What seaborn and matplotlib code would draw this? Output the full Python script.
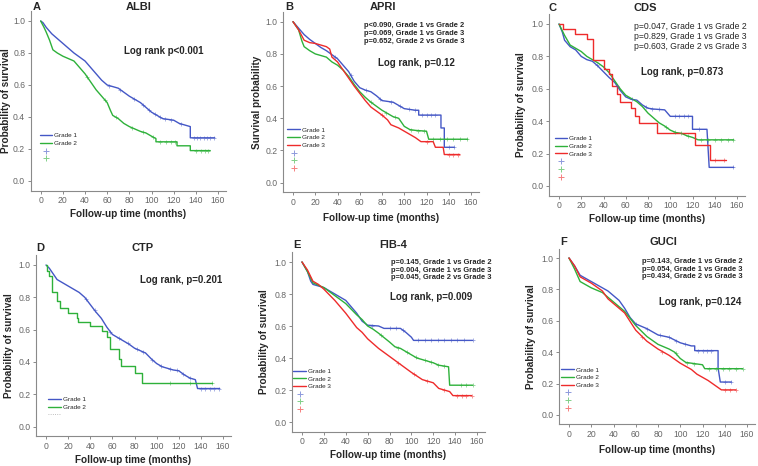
import numpy as np
import matplotlib
matplotlib.use("Agg")
import matplotlib.pyplot as plt
import seaborn as sns
from matplotlib.lines import Line2D

# ==========================
# DATA
# ==========================
x_ticks = [0, 20, 40, 60, 80, 100, 120, 140, 160]
y_ticks = [0.0, 0.2, 0.4, 0.6, 0.8, 1.0]
grades = ["Grade 1", "Grade 2", "Grade 3"]

# A - ALBI
albi_t1 = [0, 2, 5, 10, 15, 20, 25, 30, 35, 40, 45, 50, 55, 60, 65, 70, 75, 80, 85, 90, 95, 100, 105, 110, 115, 120, 125, 130, 135, 135, 157]
albi_s1 = [1.0, .99, .96, .92, .89, .86, .83, .80, .775, .75, .71, .67, .63, .60, .59, .58, .555, .53, .51, .49, .46, .43, .41, .39, .385, .38, .36, .35, .34, .27, .27]
albi_c1 = [62, 72, 84, 92, 98, 103, 108, 112, 118, 127, 138, 141, 144, 147, 150, 153, 156]
albi_t2 = [0, 3, 5, 8, 11, 15, 20, 25, 30, 35, 40, 45, 50, 55, 60, 63, 65, 70, 75, 80, 85, 90, 95, 100, 104, 104, 123, 123, 135, 135, 153]
albi_s2 = [1.0, .96, .93, .88, .82, .80, .78, .765, .75, .71, .67, .62, .57, .53, .49, .44, .41, .39, .36, .34, .325, .31, .30, .28, .265, .245, .245, .22, .22, .19, .19]
albi_c2 = [42, 58, 68, 82, 92, 101, 108, 113, 118, 121, 140, 145, 148, 151]

# B - APRI
apri_t1 = [0, 5, 10, 15, 20, 25, 30, 35, 40, 45, 50, 55, 60, 65, 70, 75, 80, 85, 90, 95, 100, 105, 110, 113, 113, 133, 133, 136, 136, 145]
apri_s1 = [1.0, .96, .92, .89, .865, .84, .82, .795, .77, .73, .69, .63, .59, .575, .565, .54, .51, .505, .50, .48, .46, .455, .45, .45, .42, .42, .34, .34, .22, .22]
apri_c1 = [38, 52, 66, 78, 88, 96, 104, 110, 116, 120, 124, 128, 140, 145]
apri_t2 = [0, 5, 8, 10, 15, 20, 25, 30, 35, 40, 45, 50, 55, 60, 65, 70, 75, 80, 85, 90, 95, 100, 105, 110, 120, 122, 157]
apri_s2 = [1.0, .95, .88, .845, .82, .80, .79, .78, .75, .73, .70, .66, .61, .565, .53, .50, .475, .45, .43, .41, .40, .35, .33, .325, .32, .27, .27]
apri_c2 = [70, 84, 92, 106, 112, 118, 126, 132, 138, 144, 150, 156]
apri_t3 = [0, 5, 10, 15, 20, 25, 30, 33, 35, 40, 45, 50, 55, 60, 65, 70, 75, 80, 85, 88, 95, 100, 105, 110, 115, 126, 128, 135, 136, 150]
apri_s3 = [1.0, .95, .885, .87, .865, .855, .845, .83, .78, .75, .70, .65, .60, .555, .51, .47, .445, .42, .39, .36, .34, .32, .30, .28, .255, .255, .22, .22, .175, .175]
apri_c3 = [80, 120, 140, 144, 148]

# C - CDS
cds_t1 = [0, 3, 5, 10, 15, 20, 25, 30, 35, 40, 45, 50, 55, 60, 65, 70, 75, 80, 85, 95, 100, 120, 120, 133, 135, 157]
cds_s1 = [1.0, .95, .90, .86, .84, .80, .78, .77, .74, .705, .67, .64, .59, .55, .535, .53, .50, .48, .475, .47, .43, .43, .35, .35, .115, .115]
cds_c1 = [34, 52, 66, 78, 84, 90, 104, 108, 112, 116, 126, 156]
cds_t2 = [0, 5, 10, 15, 20, 25, 30, 35, 40, 45, 50, 55, 60, 65, 70, 75, 80, 85, 90, 95, 100, 105, 110, 115, 120, 125, 157]
cds_s2 = [1.0, .93, .87, .85, .83, .80, .78, .76, .735, .70, .65, .60, .56, .54, .52, .49, .45, .42, .39, .37, .345, .33, .325, .31, .30, .285, .285]
cds_c2 = [96, 104, 110, 116, 128, 134, 140, 146, 152, 156]
cds_t3 = [0, 4, 14, 25, 31, 40, 45, 48, 52, 55, 65, 68, 72, 88, 122, 136, 150]
cds_s3 = [1.0, .97, .94, .91, .78, .72, .69, .62, .57, .52, .48, .43, .39, .33, .25, .16, .16]
cds_c3 = [140, 148]

# D - CTP
ctp_t1 = [0, 3, 5, 10, 15, 20, 25, 30, 35, 40, 45, 50, 55, 60, 65, 70, 75, 80, 85, 90, 95, 100, 105, 110, 115, 120, 125, 130, 135, 137, 157]
ctp_s1 = [1.0, .98, .96, .91, .89, .87, .85, .83, .80, .755, .71, .67, .615, .57, .55, .53, .51, .485, .47, .455, .42, .39, .37, .36, .35, .345, .32, .30, .29, .235, .235]
ctp_c1 = [36, 44, 58, 66, 74, 82, 88, 96, 104, 112, 118, 124, 130, 140, 144, 148, 152, 156]
ctp_t2 = [0, 1, 3, 5, 10, 13, 20, 28, 29, 40, 51, 55, 58, 66, 68, 80, 87, 150]
ctp_s2 = [1.0, .96, .93, .83, .775, .735, .70, .67, .65, .62, .59, .555, .48, .42, .375, .33, .27, .27]
ctp_c2 = [112, 130, 150]

# E - FIB-4
fib_t1 = [0, 5, 8, 10, 20, 30, 40, 50, 55, 60, 70, 75, 90, 95, 100, 102, 156]
fib_s1 = [1.0, .94, .88, .86, .84, .80, .76, .68, .63, .605, .60, .585, .585, .56, .53, .51, .51]
fib_c1 = [64, 80, 86, 92, 106, 112, 118, 124, 130, 136, 142, 148, 156]
fib_t2 = [0, 5, 10, 20, 30, 40, 50, 55, 60, 65, 70, 80, 85, 90, 100, 105, 110, 115, 120, 125, 134, 135, 156]
fib_s2 = [1.0, .94, .87, .84, .79, .74, .67, .64, .60, .58, .555, .50, .47, .46, .42, .40, .39, .38, .37, .355, .345, .23, .23]
fib_c2 = [72, 88, 96, 104, 112, 118, 124, 130, 145, 150, 156]
fib_t3 = [0, 5, 10, 15, 20, 30, 40, 50, 55, 60, 70, 80, 90, 100, 110, 120, 125, 135, 138, 155]
fib_s3 = [1.0, .95, .88, .86, .83, .76, .68, .59, .56, .52, .46, .41, .36, .31, .265, .245, .21, .19, .165, .165]
fib_c3 = [88, 102, 114, 130, 142, 146, 150, 155]

# F - GUCI
guci_t1 = [0, 5, 10, 20, 30, 35, 40, 45, 50, 55, 60, 70, 80, 90, 100, 110, 113, 113, 134, 134, 136, 146]
guci_s1 = [1.0, .95, .89, .85, .81, .79, .76, .73, .68, .62, .58, .55, .51, .495, .46, .44, .44, .41, .41, .30, .21, .21]
guci_c1 = [60, 70, 82, 90, 96, 104, 116, 120, 124, 128, 140, 146]
guci_t2 = [0, 5, 10, 20, 30, 40, 50, 60, 70, 80, 90, 95, 100, 105, 120, 122, 156]
guci_s2 = [1.0, .93, .85, .81, .78, .72, .66, .57, .50, .45, .42, .40, .36, .335, .32, .295, .295]
guci_c2 = [96, 106, 112, 126, 132, 138, 144, 150, 156]
guci_t3 = [0, 5, 10, 20, 30, 35, 40, 50, 60, 70, 80, 90, 100, 110, 115, 125, 137, 150]
guci_s3 = [1.0, .95, .88, .84, .79, .74, .71, .65, .54, .47, .42, .38, .33, .29, .26, .22, .16, .16]
guci_c3 = [66, 84, 140, 145, 150]

# ==========================
# STYLE
# ==========================
sns.set_style("white")
plt.rcParams["font.family"] = ["Liberation Sans", "DejaVu Sans"]

BLUE, GREEN, RED = "#4457C6", "#2EB13A", "#EE2B2B"
COLORS = [BLUE, GREEN, RED]
W, H = 758, 466
XMIN, XMAX, YMIN, YMAX = -9, 167, -0.06, 1.06

fig = plt.figure(figsize=(W / 100, H / 100), dpi=100)


def make_axes(x0, x160, y0, y1, ylab, ylab_px, xlab_px):
    # pixel positions of tick 0 / 160 and 0.0 / 1.0 in the reference
    sx = (x160 - x0) / 160
    sy = y0 - y1
    left, right = x0 + XMIN * sx, x0 + XMAX * sx
    top, bottom = y1 - (YMAX - 1) * sy, y0 - YMIN * sy
    ax = fig.add_axes([left / W, 1 - bottom / H, (right - left) / W, (bottom - top) / H])
    ax.set_xlim(XMIN, XMAX)
    ax.set_ylim(YMIN, YMAX)
    ax.set_xticks(x_ticks)
    ax.set_yticks(y_ticks)
    ax.set_yticklabels([f"{v:.1f}" for v in y_ticks])
    for side in ["top", "right"]:
        ax.spines[side].set_visible(False)
    for side in ["left", "bottom"]:
        ax.spines[side].set_color("#8a8a8a")
        ax.spines[side].set_linewidth(0.8)
    ax.tick_params(direction="out", length=2.5, width=0.7, color="#8a8a8a",
                   labelsize=6.2, labelcolor="#666666", pad=1.5,
                   bottom=True, left=True)
    ax.set_xlabel("Follow-up time (months)", fontsize=7.2, fontweight="bold")
    ax.set_ylabel(ylab, fontsize=7.2, fontweight="bold")
    ax.xaxis.set_label_coords(0.5, (bottom - (xlab_px - 5)) / (bottom - top))
    ax.yaxis.set_label_coords((ylab_px + 4 - left) / (right - left), 0.5)
    return ax


def km(ax, t, s, c, color, steps=False):
    assert len(t) == len(s)
    sns.lineplot(x=t, y=s, ax=ax, color=color, lw=1.0, sort=False, estimator=None,
                 drawstyle="steps-post" if steps else "default", legend=False)
    t_arr, s_arr = np.array(t, float), np.array(s, float)
    if steps:
        cy = s_arr[np.searchsorted(t_arr, c, side="right") - 1]
    else:
        cy = np.interp(c, t_arr, s_arr)
    sns.scatterplot(x=c, y=cy, ax=ax, marker="+", s=12, color=color, linewidth=0.6,
                    alpha=0.55, legend=False, zorder=3)


def add_legend(ax, n, anchor, dots=False):
    handles = [Line2D([], [], color=COLORS[i], lw=1.0) for i in range(n)]
    labels = grades[:n]
    if dots:
        handles.append(Line2D([], [], color="#aaaaaa", lw=0.6, ls=":"))
        labels.append("")
    else:
        handles += [Line2D([], [], color=COLORS[i], marker="+", ls="none", ms=5,
                           mew=0.7, alpha=0.6) for i in range(n)]
        labels += [""] * n
    ax.legend(handles, labels, loc="upper left", bbox_to_anchor=anchor,
              bbox_transform=ax.transData, fontsize=4.6, frameon=False,
              handlelength=2.0, handletextpad=0.3, labelspacing=0.35,
              borderpad=0, borderaxespad=0)


def titles(ax, letter, lx, name, nx, ty):
    ax.text(lx, ty, letter, fontsize=8, fontweight="bold", ha="center", va="center", clip_on=False)
    ax.text(nx, ty, name, fontsize=8, fontweight="bold", ha="center", va="center", clip_on=False)


def pvals(ax, x, ys, lines, bold=True, size=5.4):
    for y, txt in zip(ys, lines):
        ax.text(x, y, txt, fontsize=size, fontweight="bold" if bold else "normal",
                ha="left", va="center")


# ---------- A
ax = make_axes(40.7, 218, 181, 21, "Probability of survival", 7, 214)
km(ax, albi_t1, albi_s1, albi_c1, BLUE)
km(ax, albi_t2, albi_s2, albi_c2, GREEN)
titles(ax, "A", -4, "ALBI", 88.6, 1.085)
ax.text(75, 0.81, "Log rank p<0.001", fontsize=7, fontweight="bold", va="center")
add_legend(ax, 2, (-1, 0.30))

# ---------- B
ax = make_axes(293, 471, 182.7, 21.7, "Survival probability", 258, 218)
km(ax, apri_t1, apri_s1, apri_c1, BLUE)
km(ax, apri_t2, apri_s2, apri_c2, GREEN)
km(ax, apri_t3, apri_s3, apri_c3, RED)
titles(ax, "B", -3.3, "APRI", 80.7, 1.09)
pvals(ax, 63.7, [0.979, 0.927, 0.880],
      ["p<0.090, Grade 1 vs Grade 2", "p=0.069, Grade 1 vs Grade 3", "p=0.652, Grade 2 vs Grade 3"])
ax.text(76, 0.741, "Log rank, p=0.12", fontsize=7, fontweight="bold", va="center")
add_legend(ax, 3, (-5, 0.345))

# ---------- C
ax = make_axes(559, 737, 186, 24, "Probability of survival", 522, 219)
km(ax, cds_t1, cds_s1, cds_c1, BLUE)
km(ax, cds_t2, cds_s2, cds_c2, GREEN)
km(ax, cds_t3, cds_s3, cds_c3, RED, steps=True)
titles(ax, "C", -5.7, "CDS", 77.5, 1.10)
pvals(ax, 67, [0.984, 0.922, 0.860],
      ["p=0.047, Grade 1 vs Grade 2", "p=0.829, Grade 1 vs Grade 3", "p=0.603, Grade 2 vs Grade 3"],
      bold=False, size=6.2)
ax.text(73.9, 0.705, "Log rank, p=0.873", fontsize=7, fontweight="bold", va="center")
add_legend(ax, 3, (-4, 0.31))

# ---------- D
ax = make_axes(46, 223, 426.5, 265, "Probability of survival", 10, 460)
km(ax, ctp_t1, ctp_s1, ctp_c1, BLUE)
km(ax, ctp_t2, ctp_s2, ctp_c2, GREEN, steps=True)
titles(ax, "D", -4.9, "CTP", 87, 1.108)
ax.text(85, 0.91, "Log rank, p=0.201", fontsize=7, fontweight="bold", va="center")
add_legend(ax, 2, (2, 0.185), dots=True)

# ---------- E
ax = make_axes(302, 477, 422, 262, "Probability of survival", 265, 455)
km(ax, fib_t1, fib_s1, fib_c1, BLUE)
km(ax, fib_t2, fib_s2, fib_c2, GREEN)
km(ax, fib_t3, fib_s3, fib_c3, RED)
titles(ax, "E", -4.9, "FIB-4", 83, 1.108)
pvals(ax, 81, [0.994, 0.946, 0.904],
      ["p=0.145, Grade 1 vs Grade 2", "p=0.004, Grade 1 vs Grade 3", "p=0.045, Grade 2 vs Grade 3"])
ax.text(80.3, 0.78, "Log rank, p=0.009", fontsize=7, fontweight="bold", va="center")
add_legend(ax, 3, (-8, 0.335))

# ---------- F
ax = make_axes(569, 747, 415, 258, "Probability of survival", 532, 450)
km(ax, guci_t1, guci_s1, guci_c1, BLUE)
km(ax, guci_t2, guci_s2, guci_c2, GREEN)
km(ax, guci_t3, guci_s3, guci_c3, RED)
titles(ax, "F", -4.5, "GUCI", 84.5, 1.10)
pvals(ax, 66, [0.977, 0.925, 0.882],
      ["p=0.143, Grade 1 vs Grade 2", "p=0.054, Grade 1 vs Grade 3", "p=0.434, Grade 2 vs Grade 3"])
ax.text(80.6, 0.72, "Log rank, p=0.124", fontsize=7, fontweight="bold", va="center")
add_legend(ax, 3, (-7, 0.305))

fig.savefig("out.png", dpi=100)
